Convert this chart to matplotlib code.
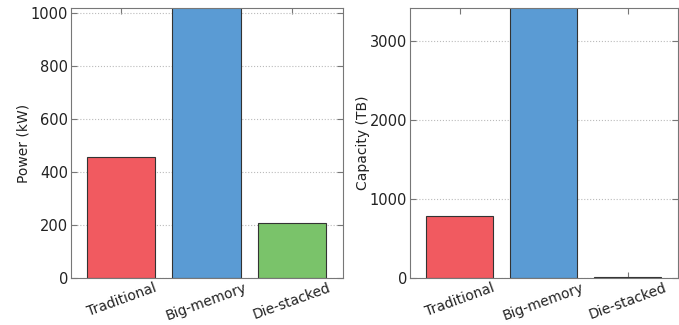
import matplotlib
matplotlib.use("Agg")
import matplotlib.pyplot as plt

# data
systems = ["Traditional", "Big-memory", "Die-stacked"]
power_kw = [457, 1100, 208]
capacity_tb = [790, 3600, 10]
colors = ["#F15A60", "#5A9BD4", "#7AC36A"]

fig = plt.figure(figsize=(6.79, 3.25), dpi=100)
ax1 = fig.add_axes([0.1046, 0.1446, 0.4006, 0.8308])
ax2 = fig.add_axes([0.6038, 0.1446, 0.3947, 0.8308])

def style(ax, vals, ylim, label, ticks):
    x = range(len(systems))
    ax.bar(x, vals, width=0.8, color=colors, edgecolor="#333333", linewidth=0.8, zorder=2)
    ax.set_xlim(-0.59, 2.6)
    ax.set_ylim(0, ylim)
    ax.set_yticks(ticks)
    ax.set_xticks(list(x))
    ax.set_xticklabels(systems, rotation=20, fontsize=10, color="#222222")
    ax.tick_params(axis="y", labelsize=10.5, direction="in", right=True, length=4,
                   color="#777777", pad=2, labelcolor="#222222")
    ax.tick_params(axis="x", direction="in", top=True, length=4, color="#777777", pad=2)
    ax.set_ylabel(label, fontsize=10, labelpad=0, color="#222222")
    ax.yaxis.grid(True, linestyle=":", color="#bbbbbb", linewidth=0.8, zorder=0)
    for s in ax.spines.values():
        s.set_color("#777777")
    ax.set_axisbelow(True)

style(ax1, power_kw, 1018, "Power (kW)", [0, 200, 400, 600, 800, 1000])
style(ax2, capacity_tb, 3418, "Capacity (TB)", [0, 1000, 2000, 3000])

fig.savefig("out.png", dpi=100)
